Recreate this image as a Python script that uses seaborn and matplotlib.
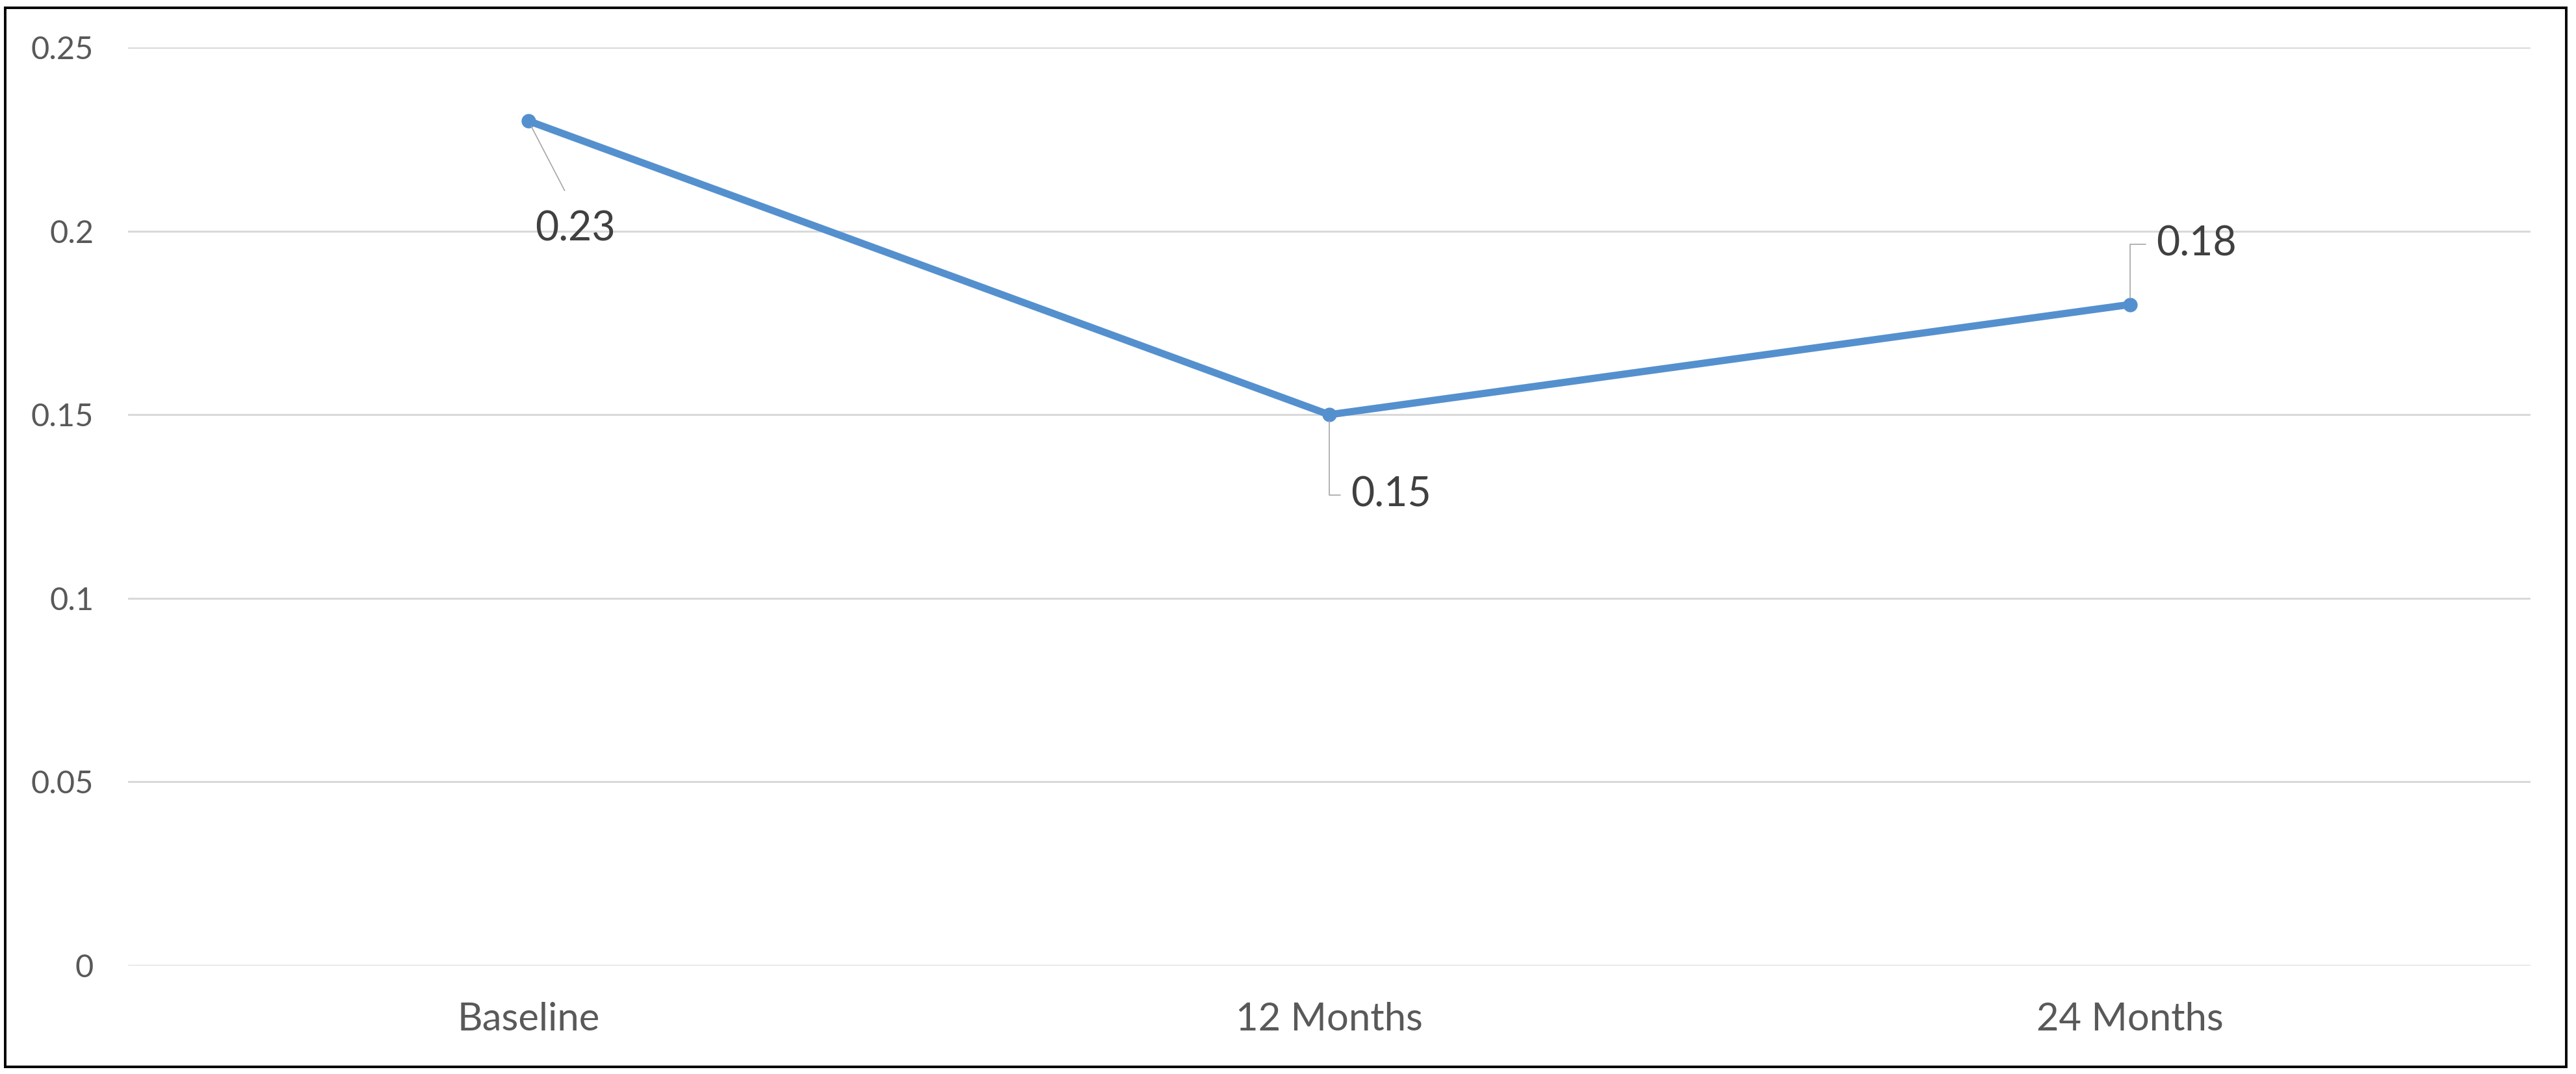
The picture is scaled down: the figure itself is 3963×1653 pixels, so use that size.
import pandas as pd
import matplotlib.pyplot as plt
import seaborn as sns
from matplotlib.patches import Rectangle

# Data
timepoints = ['Baseline', '12 Months', '24 Months']
values = [0.23, 0.15, 0.18]
value_labels = ['0.23', '0.15', '0.18']

# label placement (offset in points from the marker, leader style)
label_offsets = [(7, -120), (24, -89), (29, 67)]
label_connect = ['arc3', 'angle,angleA=0,angleB=90,rad=0', 'angle,angleA=0,angleB=90,rad=0']
label_relpos = [(0.5, 1.0), (0.0, 0.5), (0.0, 0.5)]
label_shrink = [22, 9, 9]

df = pd.DataFrame({'time': timepoints, 'value': values})

sns.set_style('white')
plt.rcParams['font.family'] = ['Lato', 'DejaVu Sans']

fig = plt.figure(figsize=(39.63, 16.53), dpi=100)
ax = fig.add_axes([0.0497, 0.101, 0.9326, 0.8548])

sns.lineplot(data=df, x='time', y='value', marker='o', markersize=16,
             color='#5590CE', linewidth=8, markeredgewidth=0, ax=ax)

ax.set_xlim(-0.5, len(timepoints) - 0.5)
ax.set_ylim(0, 0.25)
ax.set_yticks([0, 0.05, 0.1, 0.15, 0.2, 0.25])
ax.set_yticklabels(['0', '0.05', '0.1', '0.15', '0.2', '0.25'])
ax.yaxis.grid(True, color='#D9D9D9', linewidth=2.2)
ax.set_axisbelow(True)
for s in ax.spines.values():
    s.set_visible(False)
ax.tick_params(axis='y', length=0, pad=38, labelsize=35, labelcolor='#595959')
ax.tick_params(axis='x', length=0, pad=40, labelsize=43, labelcolor='#595959')
ax.set_xlabel('')
ax.set_ylabel('')

# Data labels with leader lines
for i, (v, txt) in enumerate(zip(values, value_labels)):
    ax.annotate(txt, xy=(i, v), xytext=label_offsets[i], textcoords='offset points',
                ha='left', va='center', fontsize=45, color='#404040',
                arrowprops=dict(arrowstyle='-', color='#A6A6A6', lw=1.2,
                                connectionstyle=label_connect[i],
                                relpos=label_relpos[i],
                                shrinkA=label_shrink[i], shrinkB=7))

# Outer border of the chart
fig.patches.append(Rectangle((8 / 3963, 11 / 1653), 3940 / 3963, 1630 / 1653,
                             transform=fig.transFigure, fill=False,
                             edgecolor='black', linewidth=2.8))

plt.savefig('out.png', dpi=100)
